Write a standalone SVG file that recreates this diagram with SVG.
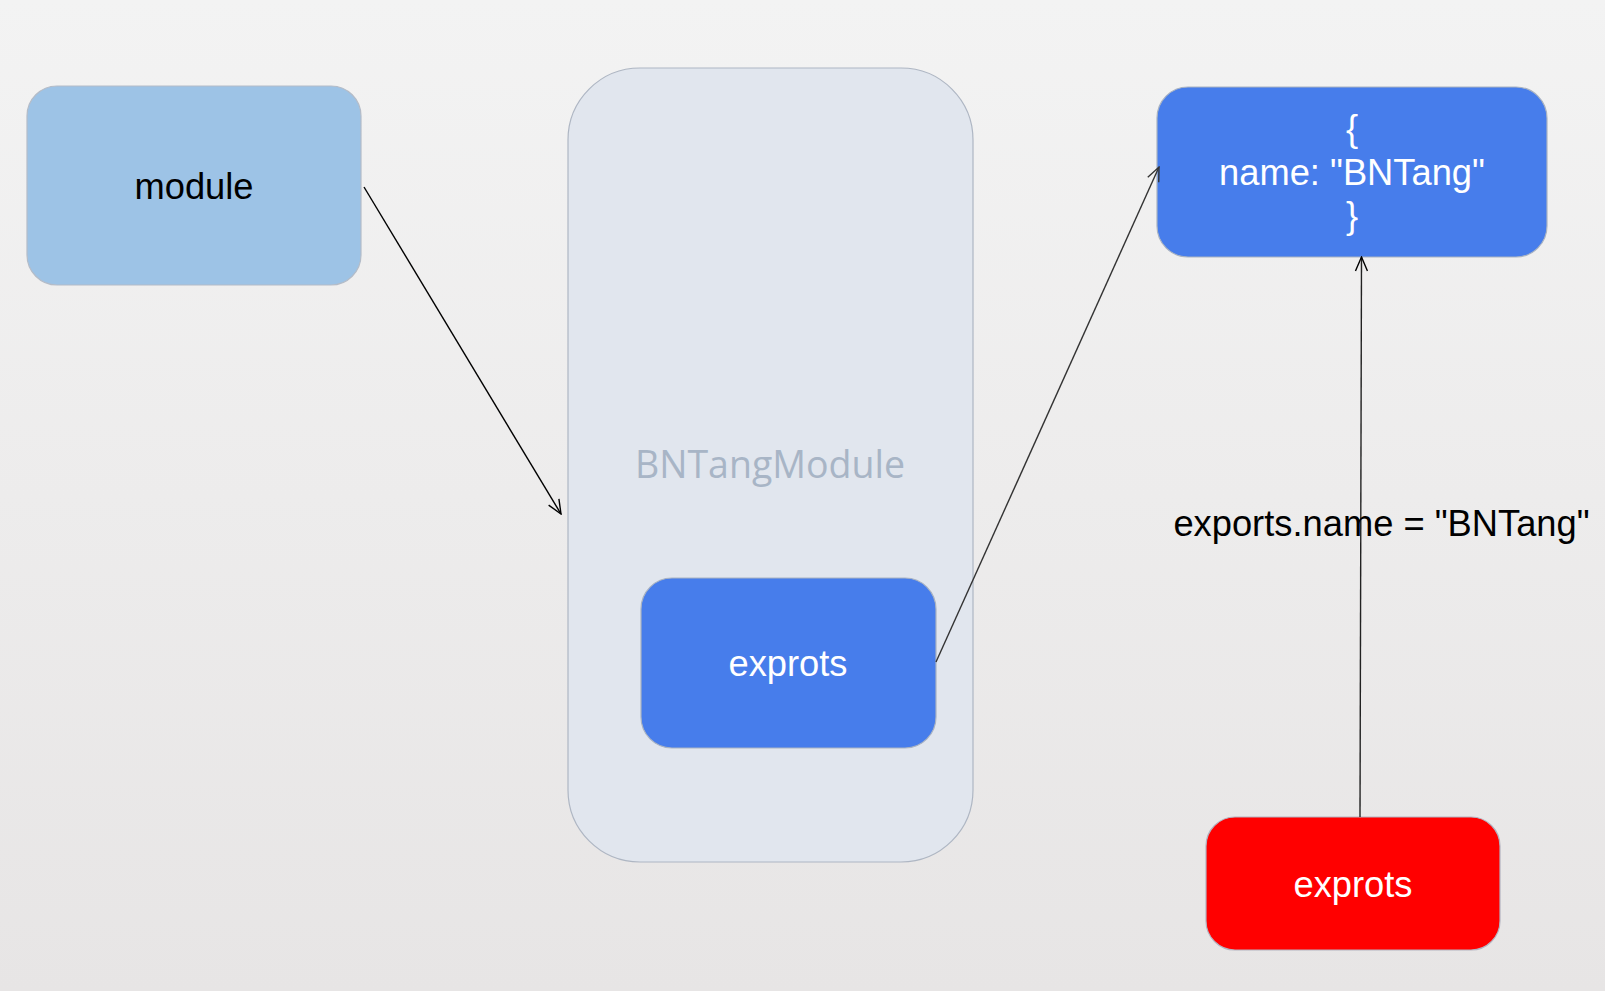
<svg xmlns="http://www.w3.org/2000/svg" width="1605" height="991" viewBox="0 0 1605 991">
<defs>
<linearGradient id="bg" x1="0" y1="0" x2="0" y2="1">
<stop offset="0" stop-color="#f3f3f3"/>
<stop offset="1" stop-color="#e7e5e5"/>
</linearGradient>
<marker id="arr" viewBox="0 0 16 14" refX="15" refY="7" markerWidth="16" markerHeight="14" markerUnits="userSpaceOnUse" orient="auto">
<path d="M1,1 L15,7 L1,13" fill="none" stroke="#000" stroke-width="1.4"/>
</marker>
<marker id="arr2" viewBox="0 0 16 14" refX="15" refY="7" markerWidth="16" markerHeight="14" markerUnits="userSpaceOnUse" orient="auto">
<path d="M1,1 L15,7 L1,13" fill="none" stroke="#333" stroke-width="1.4"/>
</marker>
</defs>
<style>
.t{font-family:"Liberation Sans",Arial,sans-serif;font-size:36.3px;text-anchor:middle}
.w{fill:#ffffff}
.b{fill:#000000}
.blue{fill:#477deb;stroke:#a9b3c2;stroke-width:1.2}
.conn{fill:none;stroke-width:1.4}
</style>
<rect x="0" y="0" width="1605" height="991" fill="url(#bg)"/>
<g id="module">
<rect x="27" y="86" width="334" height="199" rx="30" fill="#9dc3e6" stroke="#b4bcc8" stroke-width="1.2"/>
<text class="t b" x="194" y="199">module</text>
</g>
<g id="bntangmodule">
<rect x="568" y="68" width="405" height="794" rx="72" fill="#e1e6ee" stroke="#aeb6c3" stroke-width="1.2"/>
<text x="770" y="477.5" font-family="'Open Sans','Noto Sans',sans-serif" font-size="37.5" fill="#a8b5c6" text-anchor="middle">BNTangModule</text>
</g>
<g id="exprots-inner">
<rect x="641" y="578" width="295" height="170" rx="31" class="blue"/>
<text class="t w" x="788" y="676">exprots</text>
</g>
<g id="object">
<rect x="1157" y="87" width="390" height="170" rx="31" class="blue"/>
<text class="t w" x="1352" y="141">{</text>
<text class="t w" x="1352" y="185">name: "BNTang"</text>
<text class="t w" x="1352" y="228">}</text>
</g>
<g id="exprots-red">
<rect x="1206" y="817" width="294" height="133" rx="29" fill="#ff0000" stroke="#b3b3c0" stroke-width="1.2"/>
<text class="t w" x="1353" y="896.5">exprots</text>
</g>
<g id="connectors">
<line class="conn" x1="364" y1="187" x2="561" y2="514" stroke="#000" marker-end="url(#arr)"/>
<line class="conn" x1="936" y1="662" x2="1159" y2="167" stroke="#333" marker-end="url(#arr2)"/>
<line class="conn" x1="1360" y1="817" x2="1361.5" y2="257" stroke="#222" marker-end="url(#arr)"/>
</g>
<text id="label" class="t b" x="1381.5" y="536">exports.name = "BNTang"</text>
</svg>
